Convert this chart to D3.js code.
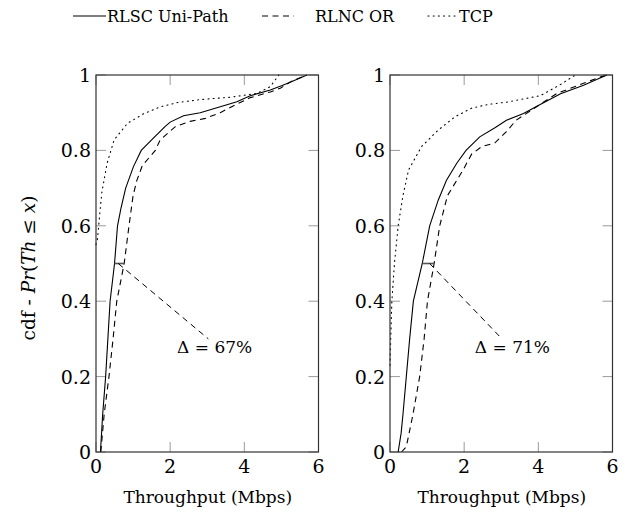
<!DOCTYPE html>
<html>
<head>
<meta charset="utf-8">
<script src="https://cdn.jsdelivr.net/npm/d3@7"></script>
<style>
  html, body { margin: 0; padding: 0; background: #fff; }
</style>
</head>
<body>
<svg id="chart" width="631" height="519" font-family="'DejaVu Serif', 'Liberation Serif', serif"></svg>
<script>
// Throughput CDFs, [Mbps, cumulative probability]
const leftRlsc = [[0.12,0],[0.18,0.1],[0.26,0.2],[0.32,0.3],[0.38,0.4],[0.5,0.5],[0.58,0.6],[0.67,0.645],[0.8,0.7],[1.01,0.757],[1.22,0.8],[1.5,0.828],[1.86,0.863],[2.0,0.875],[2.36,0.892],[2.81,0.9],[3.35,0.916],[3.8,0.929],[4.16,0.945],[4.7,0.96],[5.02,0.972],[5.33,0.985],[5.69,1.0]];
const leftRlnc = [[0.13,0],[0.22,0.1],[0.35,0.2],[0.46,0.3],[0.56,0.4],[0.76,0.5],[0.89,0.6],[1.0,0.68],[1.1,0.72],[1.25,0.76],[1.6,0.8],[1.73,0.828],[2.14,0.863],[2.54,0.877],[2.95,0.885],[3.35,0.9],[3.7,0.918],[4.16,0.94],[4.7,0.955],[4.97,0.965],[5.3,0.985],[5.69,1.0]];
const leftTcp  = [[0.0,0.55],[0.04,0.565],[0.11,0.642],[0.16,0.69],[0.3,0.766],[0.49,0.828],[0.85,0.872],[1.3,0.898],[1.75,0.916],[2.2,0.927],[2.83,0.935],[3.62,0.941],[4.34,0.951],[4.7,0.969],[4.93,1.0]];

const rightRlsc = [[0.22,0],[0.3,0.05],[0.35,0.1],[0.44,0.2],[0.53,0.3],[0.63,0.4],[0.87,0.5],[1.07,0.6],[1.3,0.668],[1.52,0.72],[1.8,0.766],[2.05,0.8],[2.42,0.836],[2.83,0.86],[3.14,0.88],[3.6,0.898],[4.05,0.922],[4.6,0.95],[5.22,0.973],[5.68,0.993],[5.85,1.0]];
const rightRlnc = [[0.31,0],[0.44,0.014],[0.62,0.1],[0.8,0.2],[0.92,0.3],[1.01,0.4],[1.19,0.5],[1.34,0.6],[1.55,0.68],[1.97,0.748],[2.2,0.79],[2.47,0.81],[2.83,0.82],[3.14,0.85],[3.4,0.88],[4.05,0.922],[4.5,0.951],[5.22,0.978],[5.68,0.995],[5.85,1.0]];
const rightTcp  = [[0.0,0.23],[0.02,0.3],[0.05,0.4],[0.12,0.5],[0.22,0.6],[0.35,0.68],[0.5,0.748],[0.85,0.81],[1.3,0.854],[1.75,0.889],[2.2,0.912],[2.65,0.922],[3.15,0.928],[4.05,0.945],[4.6,0.975],[5.0,1.0]];

// Gap between the two schemes at the median: [x from, x to, y], leader line, label
const leftGap  = [0.5, 0.76, 0.5];
const rightGap = [0.87, 1.19, 0.5];
const leftLeader  = [[0.6, 0.5], [3.03, 0.3]];
const rightLeader = [[1.07, 0.5], [3.02, 0.3]];
const leftLabel  = "Δ = 67%";
const rightLabel = "Δ = 71%";
const leftLabelPos  = [3.2, 0.263];
const rightLabelPos = [3.3, 0.263];

const xTicks = [0, 2, 4, 6];
const yTicks = [0, 0.2, 0.4, 0.6, 0.8, 1];
const seriesNames = ["RLSC Uni-Path", "RLNC OR", "TCP"];

const svg = d3.select("#chart");

const styles = {
  solid:  { dash: null },
  dashed: { dash: "6,4.5" },
  dotted: { dash: "1,4.2" }
};

function panel(left, series, gap, leader, label, labelPos) {
  const x = d3.scaleLinear().domain([0, 6]).range([left, left + 222.5]);
  const y = d3.scaleLinear().domain([0, 1]).range([452, 75]);
  const g = svg.append("g");

  // inward ticks on all four sides
  const tickLen = 10;
  const tickCol = "#9a9a9a";
  xTicks.forEach(t => {
    g.append("line").attr("x1", x(t)).attr("x2", x(t)).attr("y1", y(0)).attr("y2", y(0) - tickLen)
      .attr("stroke", tickCol).attr("stroke-width", 1);
    g.append("line").attr("x1", x(t)).attr("x2", x(t)).attr("y1", y(1)).attr("y2", y(1) + tickLen)
      .attr("stroke", tickCol).attr("stroke-width", 1);
  });
  yTicks.forEach(t => {
    g.append("line").attr("x1", x(0)).attr("x2", x(0) + tickLen).attr("y1", y(t)).attr("y2", y(t))
      .attr("stroke", tickCol).attr("stroke-width", 1);
    g.append("line").attr("x1", x(6)).attr("x2", x(6) - tickLen).attr("y1", y(t)).attr("y2", y(t))
      .attr("stroke", tickCol).attr("stroke-width", 1);
  });

  // tick labels
  g.selectAll(".xl").data(xTicks).join("text")
    .attr("x", d => x(d)).attr("y", y(0) + 21)
    .attr("text-anchor", "middle").attr("font-size", 19)
    .text(d => d3.format("")(d));
  g.selectAll(".yl").data(yTicks).join("text")
    .attr("x", x(0) - 5).attr("y", d => y(d) + 7)
    .attr("text-anchor", "end").attr("font-size", 19)
    .text(d => d3.format("")(d));

  // axis title
  g.append("text").attr("x", (x(0) + x(6)) / 2 + 0.5).attr("y", 503)
    .attr("text-anchor", "middle").attr("font-size", 17)
    .text("Throughput (Mbps)");

  // curves
  const line = d3.line().x(d => x(d[0])).y(d => y(d[1]));
  series.forEach(s => {
    g.append("path").datum(s.data).attr("d", line)
      .attr("fill", "none").attr("stroke", "#000").attr("stroke-width", 1.1)
      .attr("stroke-dasharray", styles[s.style].dash)
      .attr("stroke-linecap", s.style === "dotted" ? "round" : "butt");
  });

  // median gap marker and leader
  g.append("line").attr("x1", x(gap[0])).attr("x2", x(gap[1])).attr("y1", y(gap[2])).attr("y2", y(gap[2]))
    .attr("stroke", "#555").attr("stroke-width", 1.6);
  g.append("path").datum(leader).attr("d", line)
    .attr("fill", "none").attr("stroke", "#000").attr("stroke-width", 1)
    .attr("stroke-dasharray", "6,4.5");
  g.append("text").attr("x", x(labelPos[0])).attr("y", y(labelPos[1]))
    .attr("text-anchor", "middle").attr("font-size", 17)
    .text(label);

  // frame
  g.append("rect").attr("x", x(0)).attr("y", y(1)).attr("width", x(6) - x(0)).attr("height", y(0) - y(1))
    .attr("fill", "none").attr("stroke", "#333").attr("stroke-width", 1.2);
}

panel(96, [
  { data: leftRlsc, style: "solid" },
  { data: leftRlnc, style: "dashed" },
  { data: leftTcp,  style: "dotted" }
], leftGap, leftLeader, leftLabel, leftLabelPos);

panel(390, [
  { data: rightRlsc, style: "solid" },
  { data: rightRlnc, style: "dashed" },
  { data: rightTcp,  style: "dotted" }
], rightGap, rightLeader, rightLabel, rightLabelPos);

// y-axis title
const yt = svg.append("text")
  .attr("transform", "translate(35,268) rotate(-90)")
  .attr("text-anchor", "middle").attr("font-size", 18.5);
yt.append("tspan").text("cdf - ");
yt.append("tspan").attr("font-style", "italic").text("Pr");
yt.append("tspan").text("(");
yt.append("tspan").attr("font-style", "italic").text("Th");
yt.append("tspan").text(" ≤ ");
yt.append("tspan").attr("font-style", "italic").text("x");
yt.append("tspan").text(")");

// legend
const legend = [
  { name: seriesNames[0], style: "solid",  x1: 73,  x2: 106, tx: 107 },
  { name: seriesNames[1], style: "dashed", x1: 262, x2: 294, tx: 315 },
  { name: seriesNames[2], style: "dotted", x1: 428, x2: 456, tx: 459 }
];
const lg = svg.append("g");
legend.forEach(l => {
  lg.append("line").attr("x1", l.x1).attr("x2", l.x2).attr("y1", 16).attr("y2", 16)
    .attr("stroke", "#000").attr("stroke-width", 1.1)
    .attr("stroke-dasharray", styles[l.style].dash)
    .attr("stroke-linecap", l.style === "dotted" ? "round" : "butt");
  lg.append("text").attr("x", l.tx).attr("y", 21.5).attr("font-size", 16).text(l.name);
});
</script>
</body>
</html>
